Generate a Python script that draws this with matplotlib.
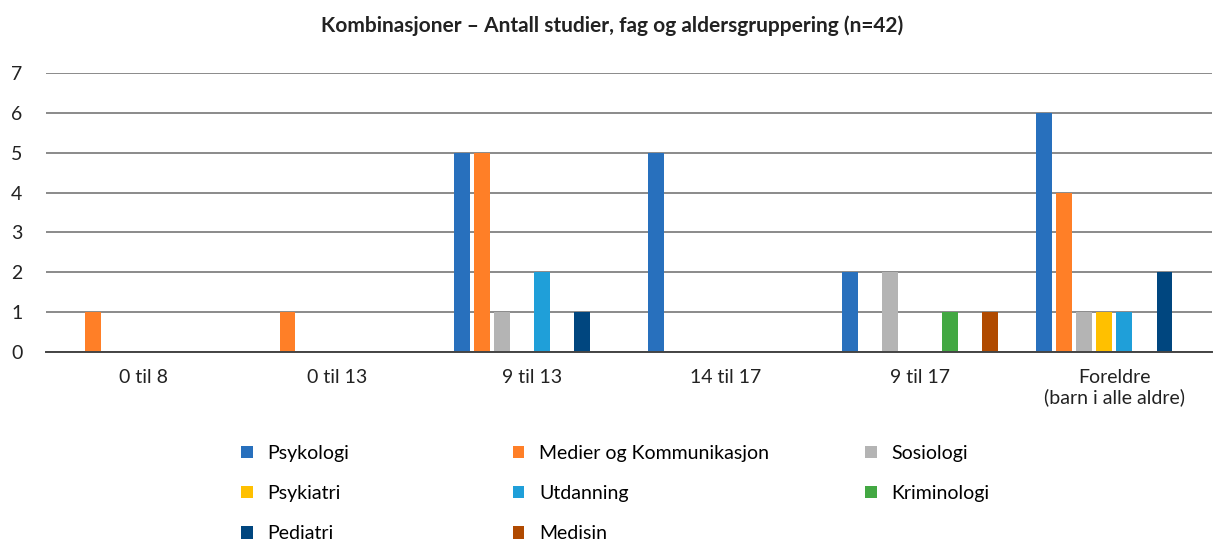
import numpy as np
import matplotlib
matplotlib.use("Agg")
import matplotlib.pyplot as plt

plt.rcParams['font.family'] = ['Lato', 'DejaVu Sans']

groups = ["0 til 8", "0 til 13", "9 til 13", "14 til 17", "9 til 17",
          "Foreldre\n(barn i alle aldre)"]

fag = ["Psykologi", "Medier og Kommunikasjon", "Sosiologi", "Psykiatri",
       "Utdanning", "Kriminologi", "Pediatri", "Medisin"]
colors = ["#2870BD", "#FF7F27", "#B4B4B4", "#FFC000",
          "#1F9FD9", "#43A843", "#00467F", "#B04A00"]

# antall studier per fag, i rekkefolge av groups
psykologi = [0, 0, 5, 5, 2, 6]
medier = [1, 1, 5, 0, 0, 4]
sosiologi = [0, 0, 1, 0, 2, 1]
psykiatri = [0, 0, 0, 0, 0, 1]
utdanning = [0, 0, 2, 0, 0, 1]
kriminologi = [0, 0, 0, 0, 1, 0]
pediatri = [0, 0, 1, 0, 0, 2]
medisin = [0, 0, 0, 0, 1, 0]

series = [psykologi, medier, sosiologi, psykiatri,
          utdanning, kriminologi, pediatri, medisin]

fig = plt.figure(figsize=(12.14, 5.40), dpi=100)
ax = fig.add_axes([0.038, 0.348, 0.960, 0.517])

x = np.arange(len(groups))
slot = 0.103
width = 0.082
handles = []
for i, (vals, c) in enumerate(zip(series, colors)):
    off = (i - 3.5) * slot
    b = ax.bar(x + off, vals, width, color=c, zorder=3, label=fag[i])
    handles.append(b)

ax.set_xlim(-0.5, len(groups) - 0.5)
ax.set_ylim(0, 7)
ax.set_yticks(range(0, 8))
ax.set_xticks(x)
ax.set_xticklabels(groups, fontsize=14, color="#222222", linespacing=1.2)
ax.tick_params(axis="y", labelsize=14, length=0, pad=17, colors="#222222")
ax.tick_params(axis="x", length=0, pad=12)
ax.grid(axis="y", color="#8a8a8a", linewidth=1.4, zorder=0)
for s in ["top", "right", "left"]:
    ax.spines[s].set_visible(False)
ax.spines["bottom"].set_color("#444444")
ax.spines["bottom"].set_linewidth(1.4)
ax.spines["bottom"].set_zorder(4)

fig.text(0.504, 0.953, "Kombinasjoner \u2013 Antall studier, fag og aldersgruppering (n=42)",
         ha="center", va="center", fontsize=15, fontweight="bold", color="#222222")

# legende i tre kolonner
cols = [[0, 3, 6], [1, 4, 7], [2, 5]]
xpos = [0.192, 0.416, 0.706]
for col, xp in zip(cols, xpos):
    fig.legend([handles[k] for k in col], [fag[k] for k in col],
               loc="upper left", bbox_to_anchor=(xp, 0.191),
               frameon=False, fontsize=14, handlelength=0.6, handleheight=0.6,
               handletextpad=0.75, labelspacing=1.2, borderaxespad=0)

fig.savefig("out.png", dpi=100)
